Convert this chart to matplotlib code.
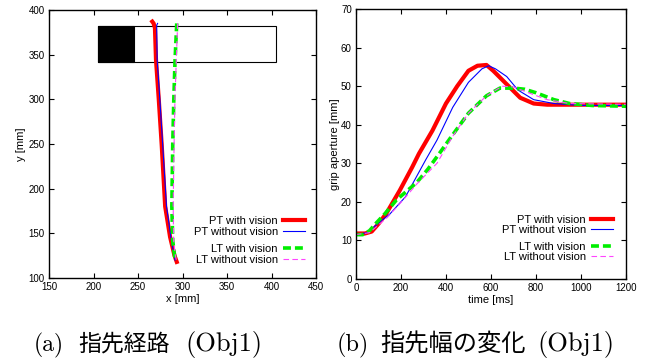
import matplotlib
matplotlib.use("Agg")
import matplotlib.pyplot as plt
from matplotlib.patches import Rectangle

plt.rcParams['font.family'] = ['Liberation Sans', 'DejaVu Sans']

# (a) fingertip path, x vs y [mm]
pt_vis_y = [387, 385, 380, 344, 300, 249, 180, 146, 125, 118]
pt_vis_x = [266, 267.5, 269, 270.2, 273.3, 276.6, 280.5, 286, 291, 293.5]
pt_nov_y = [385, 383, 380, 344, 300, 249, 180, 139, 125, 120]
pt_nov_x = [272, 271, 271, 271.5, 274.5, 277.7, 282, 287.9, 290.5, 291.6]
lt_vis_y = [385, 344, 300, 249, 180, 142, 125, 120]
lt_vis_x = [293.5, 291.6, 290.2, 289, 288, 289, 291, 292.3]
lt_nov_y = [385, 344, 300, 249, 180, 142, 125, 120]
lt_nov_x = [294.5, 293, 291.5, 290.5, 289.5, 290, 292, 293]

# object outline and black part
obj_x0, obj_x1, obj_y0, obj_y1 = 205, 405, 342, 382
blk_x1 = 245

# (b) grip aperture over time
pt_vis_t = [0, 40, 70, 100, 135, 195, 250, 280, 340, 400, 450, 500, 540, 580, 610, 670, 730, 790, 850, 1200]
pt_vis_g = [11.8, 11.8, 12.3, 14.3, 17, 23, 29, 32.5, 38.5, 45.5, 50, 54, 55.3, 55.5, 54, 50.5, 47, 45.5, 45.2, 45.2]
pt_nov_t = [0, 50, 100, 150, 220, 310, 360, 430, 500, 560, 590, 620, 670, 720, 790, 880, 1000, 1200]
pt_nov_g = [11.5, 12, 14.5, 16.8, 21.3, 30.9, 36, 44.5, 51, 54.5, 55.3, 54.5, 52.5, 49, 46.5, 45.5, 45, 45]
lt_vis_t = [0, 30, 60, 90, 130, 180, 220, 270, 320, 370, 430, 500, 580, 640, 700, 750, 800, 880, 950, 1050, 1200]
lt_vis_g = [11.5, 11.5, 12.5, 14.5, 17, 20.5, 22.5, 25, 28.5, 32.5, 37.4, 43, 47.5, 49.5, 49.5, 49.2, 48.3, 46.5, 45.5, 45, 44.8]
lt_nov_t = [0, 60, 140, 210, 270, 360, 430, 500, 580, 650, 700, 780, 850, 950, 1200]
lt_nov_g = [11.5, 12, 16, 20.5, 24.6, 30, 37, 43, 47.5, 50, 49.8, 48, 46.5, 45.5, 45.3]

labels = ["PT with vision", "PT without vision", "LT with vision", "LT without vision"]

fig = plt.figure(figsize=(6.46, 3.58), dpi=100)
ax1 = fig.add_axes([0.0759, 0.2235, 0.4133, 0.7486])
ax2 = fig.add_axes([0.551, 0.2207, 0.418, 0.754])

styles = [
    dict(color="#ff0000", lw=3.0, ls="-"),
    dict(color="#0000ff", lw=0.8, ls="-"),
    dict(color="#00ee00", lw=2.6, ls=(0, (2.2, 1.1))),
    dict(color="#ff44ff", lw=0.8, ls=(0, (5, 3))),
]

ax1.add_patch(Rectangle((obj_x0, obj_y0), obj_x1 - obj_x0, obj_y1 - obj_y0,
                        fill=False, ec="black", lw=0.8))
ax1.add_patch(Rectangle((obj_x0, obj_y0), blk_x1 - obj_x0, obj_y1 - obj_y0,
                        fc="black", ec="black", lw=0.8))

h1 = []
for (xs, ys), st, lab in zip([(pt_vis_x, pt_vis_y), (pt_nov_x, pt_nov_y),
                               (lt_vis_x, lt_vis_y), (lt_nov_x, lt_nov_y)], styles, labels):
    h1 += ax1.plot(xs, ys, label=lab, **st)

h2 = []
for (xs, ys), st, lab in zip([(pt_vis_t, pt_vis_g), (pt_nov_t, pt_nov_g),
                               (lt_vis_t, lt_vis_g), (lt_nov_t, lt_nov_g)], styles, labels):
    h2 += ax2.plot(xs, ys, label=lab, **st)

ax1.set_xlim(150, 450)
ax1.set_ylim(100, 400)
ax1.set_xticks(range(150, 451, 50))
ax1.set_yticks(range(100, 401, 50))
ax1.set_xlabel("x [mm]", fontsize=8, labelpad=1)
ax1.set_ylabel("y [mm]", fontsize=8, labelpad=2)

ax2.set_xlim(0, 1200)
ax2.set_ylim(0, 70)
ax2.set_xticks(range(0, 1201, 200))
ax2.set_yticks(range(0, 71, 10))
ax2.set_xlabel("time [ms]", fontsize=8, labelpad=1)
ax2.set_ylabel("grip aperture [mm]", fontsize=8, labelpad=1)


def add_legends(ax, hs, xr, yc1, yc2):
    kw = dict(frameon=False, markerfirst=False, fontsize=8, handlelength=2.0,
              handletextpad=0.45, labelspacing=0.05, borderpad=0, borderaxespad=0,
              loc="center right")
    lg1 = ax.legend(hs[:2], labels[:2], bbox_to_anchor=(xr, yc1), **kw)
    ax.add_artist(lg1)
    ax.legend(hs[2:], labels[2:], bbox_to_anchor=(xr, yc2), **kw)


add_legends(ax1, h1, 0.959, 0.192, 0.088)
add_legends(ax2, h2, 0.952, 0.200, 0.100)

for ax in (ax1, ax2):
    ax.tick_params(direction="in", top=True, right=True, length=3.5, width=0.8,
                   labelsize=7, pad=3)
    for s in ax.spines.values():
        s.set_linewidth(1.0)

# captions: serif parts plus Japanese parts
base = 1 - 351 / 358
serif = ['cmr10', 'DejaVu Serif']
jp = ['Noto Sans CJK JP', 'DejaVu Sans']
fig.text(34 / 646, base, "(a)", fontsize=17, family=serif, va="baseline")
fig.text(78 / 646, base, "指先経路", fontsize=16.5, family=jp, va="baseline")
fig.text(262 / 646, base, "(Obj1)", fontsize=19, family=serif, va="baseline", ha="right")
fig.text(337 / 646, base, "(b)", fontsize=17.5, family=serif, va="baseline")
fig.text(380 / 646, base, "指先幅の変化", fontsize=17.5, family=jp, va="baseline")
fig.text(615 / 646, base, "(Obj1)", fontsize=19, family=serif, va="baseline", ha="right")

fig.savefig("out.png", dpi=100)
